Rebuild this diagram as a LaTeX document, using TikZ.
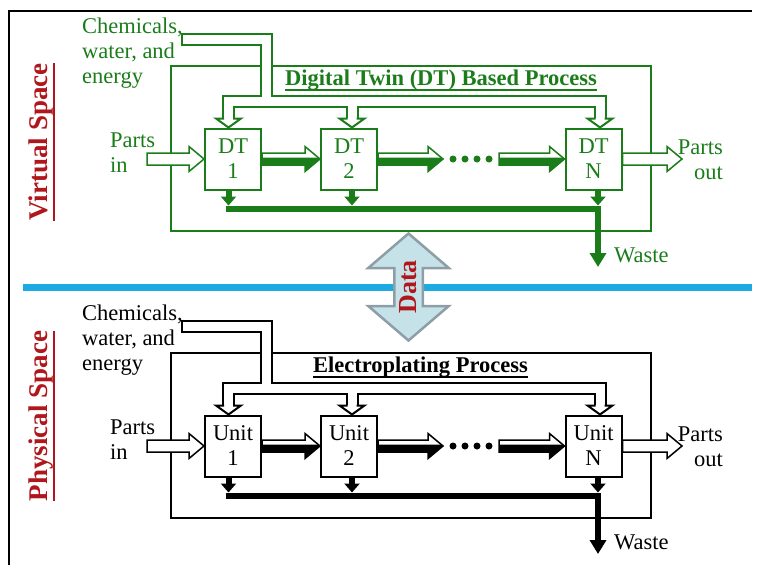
\documentclass[tikz,border=0pt]{standalone}
\usepackage{fontspec}
\setmainfont{Liberation Serif}
\usepackage{tikz}
\usetikzlibrary{arrows.meta, positioning, calc}

\definecolor{dtgreen}{HTML}{1A7D1A}
\definecolor{spacered}{HTML}{B0171C}
\definecolor{divider}{HTML}{1DA9E1}
\definecolor{datafill}{HTML}{C6E2E9}
\definecolor{dataedge}{HTML}{8D9EA6}

% thick underline that scales with the font
\newcommand\ulbox[1]{\setbox0=\hbox{#1}\rlap{\rule[-0.26em]{\wd0}{0.08em}}\box0}

% horizontal block arrows (let-coordinates are canvas, y up)
\newcommand\hollowarrow[3]{%
  \filldraw[fill=white, draw=#1, line width=1.5pt, line join=miter]
    let \p1=(#2), \p2=(#3) in
    (\x1,\y2+6pt) -- (\x2-15pt,\y2+6pt) -- (\x2-15pt,\y2+12.5pt) -- (\x2,\y2)
    -- (\x2-15pt,\y2-12.5pt) -- (\x2-15pt,\y2-6pt) -- (\x1,\y2-6pt) -- cycle;}
\newcommand\fatarrow[3]{%
  \hollowarrow{#1}{#2}{#3}
  \fill[#1] let \p1=(#2), \p2=(#3) in
    (\x1,\y2+1.5pt) -- (\x2-1.8pt,\y2+1.5pt) -- (\x2,\y2)
    -- (\x2-15pt,\y2-12.5pt) -- (\x2-15pt,\y2-6pt) -- (\x1,\y2-6pt) -- cycle;}
% open head at the end of a supply pipe
\newcommand\pipehead[2]{%
  \filldraw[fill=white, draw=#1, line width=2pt, line join=miter]
    let \p1=(#2) in
    (\x1-4.5pt,\y1+9pt) -- (\x1-12.5pt,\y1+9pt) -- (\x1,\y1)
    -- (\x1+12.5pt,\y1+9pt) -- (\x1+4.5pt,\y1+9pt);}

\begin{document}
\begin{tikzpicture}[x=1pt, y=-1pt,
    every node/.style={font=\fontsize{22.5}{25}\selectfont},
    unitbox/.style={
        draw=#1, text=#1, line width=2pt, fill=white,
        minimum width=56pt, minimum height=61pt,
        inner sep=0pt, align=center,
    },
    procframe/.style={
        draw=#1, line width=2pt, inner sep=0pt,
        minimum width=480pt, minimum height=165pt,
    },
    proctitle/.style={
        text=#1, anchor=base, inner sep=0pt,
        font=\fontsize{22.5}{25}\selectfont\bfseries,
    },
    sidetext/.style={text=#1, align=left, inner sep=0pt},
    outflow/.style={draw=#1, line width=6pt},
    spacelabel/.style={
        rotate=90, text=spacered, inner sep=0pt,
        font=\fontsize{27}{30}\selectfont\bfseries,
    },
    datalabel/.style={
        rotate=90, text=spacered, inner sep=0pt,
        font=\fontsize{26}{28}\selectfont\bfseries,
    },
]
\useasboundingbox (0,0) rectangle (757,565);

% ── Page frame and divider ────────────────────────────────────────────
\draw[line width=1.5pt] (9,565) -- (9,11) -- (752,11);
\draw[divider, line width=7pt] (23,287) -- (752,287);

% ── Virtual space (digital twin) ──────────────────────────────────────
\node[spacelabel] (vlabel) at (42,142) {\ulbox{Virtual Space}};
\node[procframe=dtgreen] (vframe) at (411,148.5) {};
\node[proctitle=dtgreen] (vtitle) at (441,85) {\ulbox{Digital Twin (DT) Based Process}};

\node[unitbox=dtgreen] (dt1) at (233,159)   {DT\\1};
\node[unitbox=dtgreen] (dt2) at (349,159)   {DT\\2};
\node[unitbox=dtgreen] (dtN) at (593.5,159) {DT\\N};

\node[sidetext=dtgreen, anchor=north west] (vchem) at (82,17.5) {Chemicals,\\water, and\\energy};
\node[sidetext=dtgreen, anchor=north west] (vin) at (110,133) {Parts\\in};
\node[sidetext=dtgreen, align=right, anchor=north east] (vout) at (723,140) {Parts\\out};
\node[sidetext=dtgreen, anchor=base west] (vwaste) at (614,262) {Waste};

% supply pipe: green outline first, white core on top
\foreach \lw/\lc/\lo in {13/dtgreen/0, 9/white/2} {
    \draw[line width=\lw pt, draw=\lc, line join=miter] (181+\lo,39.5) -- (266.5,39.5) -- (266.5,101);
    \draw[line width=\lw pt, draw=\lc, line join=miter] (228.5,118) -- (228.5,101) -- (600,101) -- (600,118);
    \draw[line width=\lw pt, draw=\lc] (352,101) -- (352,118);
}
\pipehead{dtgreen}{$(dt1.north)+(-4.5,0)$}
\pipehead{dtgreen}{$(dt2.north)+(3,0)$}
\pipehead{dtgreen}{$(dtN.north)+(6.5,0)$}

% parts flow
\coordinate (vinend)  at (147,159);
\coordinate (voutend) at (682,159);
\coordinate (vdotsL)  at (443,159);
\coordinate (vdotsR)  at (499,159);
\hollowarrow{dtgreen}{vinend}{dt1.west}
\hollowarrow{dtgreen}{dtN.east}{voutend}
\fatarrow{dtgreen}{dt1.east}{dt2.west}
\fatarrow{dtgreen}{dt2.east}{vdotsL}
\fatarrow{dtgreen}{vdotsR}{dtN.west}
\foreach \x in {453,465,477,489} \fill[dtgreen] (\x,159) circle (3.5pt);

% waste collection
\draw[outflow=dtgreen, -{Triangle[width=15pt,length=9pt]}] ($(dt1.south)+(-4.5,0)$) -- ++(0,15);
\draw[outflow=dtgreen, -{Triangle[width=15pt,length=9pt]}] ($(dt2.south)+(3,0)$) -- ++(0,15);
\draw[outflow=dtgreen, -{Triangle[width=15pt,length=9pt]}] ($(dtN.south)+(4.5,0)$) -- ++(0,15);
\draw[outflow=dtgreen] (225.5,209) -- (601,209);
\coordinate (vsink) at (598,267);
\draw[outflow=dtgreen, -{Triangle[width=16pt,length=14pt]}] (598,206) -- (vsink);

% ── Physical space (electroplating line) ──────────────────────────────
\begin{scope}[shift={(0,287)}]
\node[spacelabel] (plabel) at (42,129) {\ulbox{Physical Space}};
\node[procframe=black] (pframe) at (411,148.5) {};
\node[proctitle=black] (ptitle) at (420.5,85) {\ulbox{Electroplating Process}};

\node[unitbox=black] (u1) at (233,159)   {Unit\\1};
\node[unitbox=black] (u2) at (349,159)   {Unit\\2};
\node[unitbox=black] (uN) at (593.5,159) {Unit\\N};

\node[sidetext=black, anchor=north west] (pchem) at (82,17.5) {Chemicals,\\water, and\\energy};
\node[sidetext=black, anchor=north west] (pin) at (110,133) {Parts\\in};
\node[sidetext=black, align=right, anchor=north east] (pout) at (723,140) {Parts\\out};
\node[sidetext=black, anchor=base west] (pwaste) at (614,262) {Waste};

\foreach \lw/\lc/\lo in {13/black/0, 9/white/2} {
    \draw[line width=\lw pt, draw=\lc, line join=miter] (181+\lo,39.5) -- (266.5,39.5) -- (266.5,101);
    \draw[line width=\lw pt, draw=\lc, line join=miter] (228.5,118) -- (228.5,101) -- (600,101) -- (600,118);
    \draw[line width=\lw pt, draw=\lc] (352,101) -- (352,118);
}
\pipehead{black}{$(u1.north)+(-4.5,0)$}
\pipehead{black}{$(u2.north)+(3,0)$}
\pipehead{black}{$(uN.north)+(6.5,0)$}

\coordinate (pinend)  at (147,159);
\coordinate (poutend) at (682,159);
\coordinate (pdotsL)  at (443,159);
\coordinate (pdotsR)  at (499,159);
\hollowarrow{black}{pinend}{u1.west}
\hollowarrow{black}{uN.east}{poutend}
\fatarrow{black}{u1.east}{u2.west}
\fatarrow{black}{u2.east}{pdotsL}
\fatarrow{black}{pdotsR}{uN.west}
\foreach \x in {453,465,477,489} \fill[black] (\x,159) circle (3.5pt);

\draw[outflow=black, -{Triangle[width=15pt,length=9pt]}] ($(u1.south)+(-4.5,0)$) -- ++(0,15);
\draw[outflow=black, -{Triangle[width=15pt,length=9pt]}] ($(u2.south)+(3,0)$) -- ++(0,15);
\draw[outflow=black, -{Triangle[width=15pt,length=9pt]}] ($(uN.south)+(4.5,0)$) -- ++(0,15);
\draw[outflow=black] (225.5,209) -- (601,209);
\coordinate (psink) at (598,267);
\draw[outflow=black, -{Triangle[width=16pt,length=14pt]}] (598,206) -- (psink);
\end{scope}

% ── Data exchange ─────────────────────────────────────────────────────
\filldraw[draw=dataedge, fill=datafill, line width=2.5pt, line join=miter]
    (408.5,233.5) -- (448.75,268) -- (422.75,268) -- (422.75,306) -- (448.75,306)
    -- (408.5,340.5) -- (368.25,306) -- (394.25,306) -- (394.25,268) -- (368.25,268) -- cycle;
\node[datalabel] (data) at (408.5,287) {Data};

\end{tikzpicture}
\end{document}
